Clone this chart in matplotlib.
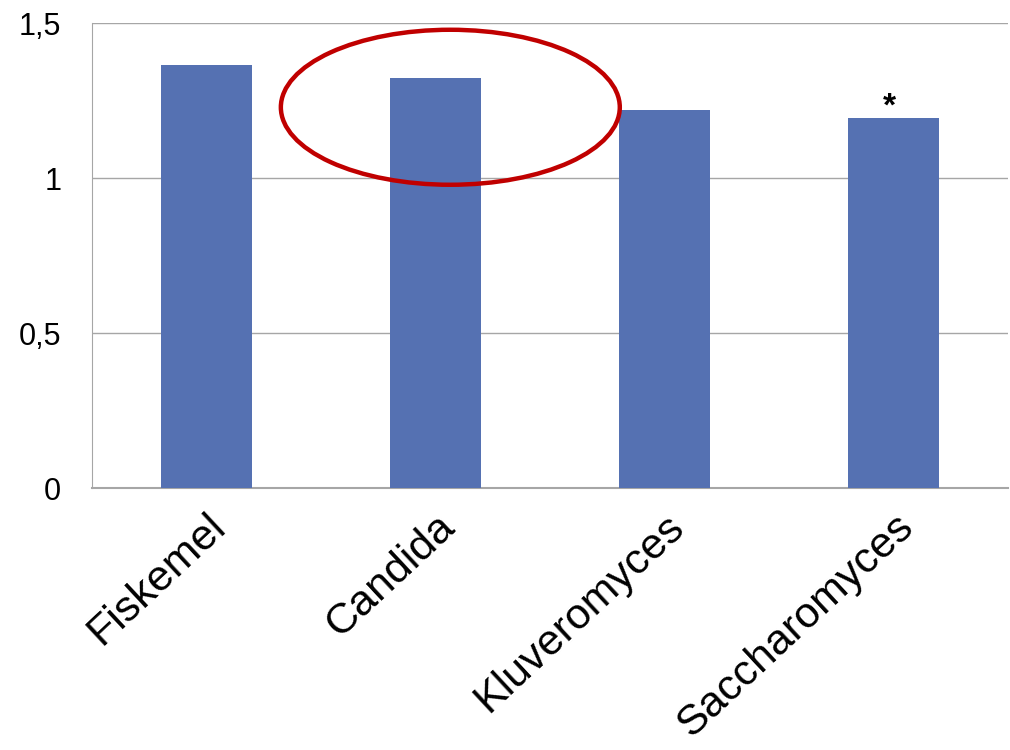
import matplotlib.pyplot as plt
from matplotlib.patches import Ellipse

categories = ["Fiskemel", "Candida", "Kluveromyces", "Saccharomyces"]
values = [1.365, 1.323, 1.219, 1.194]
yticks = [0, 0.5, 1, 1.5]
ytick_labels = ["0", "0,5", "1", "1,5"]
marked = "Saccharomyces"  # star over this bar

plt.rcParams["font.family"] = ["Liberation Sans", "DejaVu Sans"]

fig = plt.figure(figsize=(10.1, 7.5), dpi=100)
ax = fig.add_axes([0.091, 0.349, 0.907, 0.620])

x = list(range(len(categories)))
ax.bar(x, values, width=0.4, color="#5571B2", zorder=3)

ax.set_xlim(-0.5, len(categories) - 0.5)
ax.set_ylim(0, 1.5)
ax.set_yticks(yticks)
ax.set_yticklabels(ytick_labels, fontsize=22)
ax.set_xticks(x)
ax.set_xticklabels(categories, fontsize=31, rotation=43, ha="right",
                   rotation_mode="anchor")
ax.tick_params(axis="both", length=0)
ax.tick_params(axis="y", pad=22)
ax.tick_params(axis="x", pad=13)

ax.grid(axis="y", color="#A6A6A6", linewidth=1.0, zorder=0)
for s in ["top", "right"]:
    ax.spines[s].set_visible(False)
ax.spines["left"].set_color("#A6A6A6")
ax.spines["bottom"].set_color("#A6A6A6")
ax.spines["bottom"].set_linewidth(1.5)

i = categories.index(marked)
ax.text(i - 0.017, values[i] + 0.009, "*", ha="center", va="baseline",
        fontsize=24, fontweight="bold")

ax.add_patch(Ellipse((1.065, 1.229), 1.48, 0.5, fill=False,
                     edgecolor="#C00000", linewidth=3.2, zorder=4, clip_on=False))

fig.savefig("out.png", dpi=100)
